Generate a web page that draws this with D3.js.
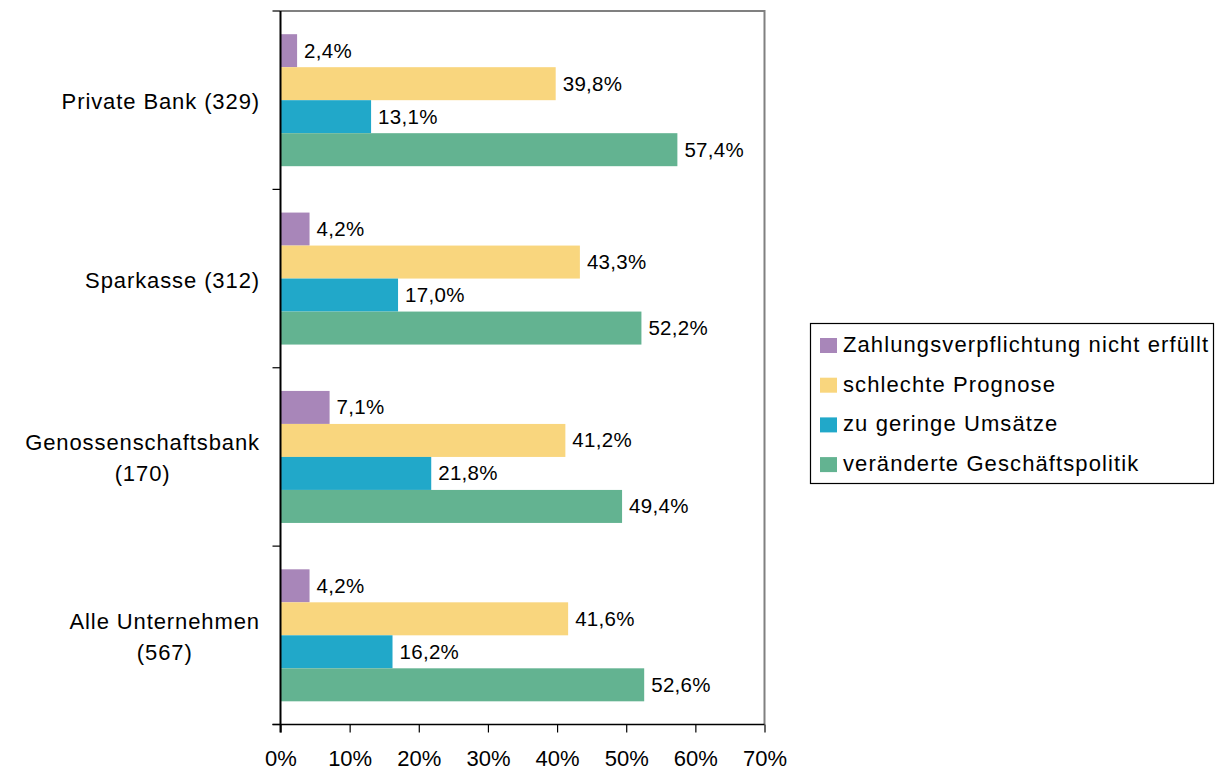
<!DOCTYPE html>
<html>
<head>
<meta charset="utf-8">
<script src="https://cdn.jsdelivr.net/npm/d3@7"></script>
<style>
  body { margin: 0; background: #fff; }
  text { font-family: "Liberation Sans", Arial, sans-serif; fill: #000; }
</style>
</head>
<body>
<div id="chart"></div>
<script>
// categories, top to bottom
var categories = [["Private Bank (329)"], ["Sparkasse (312)"], ["Genossenschaftsbank", "(170)"], ["Alle Unternehmen", "(567)"]];
var seriesNames = ["Zahlungsverpflichtung nicht erfüllt", "schlechte Prognose", "zu geringe Umsätze", "veränderte Geschäftspolitik"];
var seriesColors = ["#A886B9", "#F9D67E", "#21A8C9", "#63B391"];
// values per series, same order as categories
var zahlung = [2.4, 4.2, 7.1, 4.2];
var prognose = [39.8, 43.3, 41.2, 41.6];
var umsatz = [13.1, 17.0, 21.8, 16.2];
var politik = [57.4, 52.2, 49.4, 52.6];
var tickValues = [0, 10, 20, 30, 40, 50, 60, 70];

var values = [zahlung, prognose, umsatz, politik];

var W = 1222, H = 771;
var pLeft = 280.5, pRight = 764.5, pTop = 11, pBottom = 724.5;

var svg = d3.select("#chart").append("svg").attr("width", W).attr("height", H);

var x = d3.scaleLinear().domain([0, 70]).range([pLeft, pRight]);
var y = d3.scaleBand().domain(d3.range(categories.length)).range([pTop, pBottom]).paddingInner(0.26).paddingOuter(0.13);
var ySub = d3.scaleBand().domain(d3.range(seriesNames.length)).range([0, y.bandwidth()]);

// frame: top and right in grey
svg.append("path")
  .attr("d", "M" + pLeft + "," + pTop + "H" + pRight + "V" + pBottom)
  .attr("fill", "none").attr("stroke", "#808080").attr("stroke-width", 2);

// bars
values.forEach(function (vals, s) {
  svg.selectAll(".bar" + s).data(vals).enter().append("rect")
    .attr("x", x(0))
    .attr("y", function (d, i) { return y(i) + ySub(s); })
    .attr("width", function (d) { return x(d) - x(0); })
    .attr("height", ySub.bandwidth())
    .attr("fill", seriesColors[s]);
  svg.selectAll(".lab" + s).data(vals).enter().append("text")
    .attr("x", function (d) { return x(d) + 7; })
    .attr("y", function (d, i) { return y(i) + ySub(s) + ySub.bandwidth() / 2 + 7; })
    .style("font-size", "20.5px")
    .style("letter-spacing", "0.3px")
    .text(function (d) { return d.toFixed(1).replace(".", ",") + "%"; });
});

// x axis
var xAxis = d3.axisBottom(x).tickValues(tickValues).tickSize(8).tickFormat(function (d) { return d + "%"; });
var gx = svg.append("g").attr("transform", "translate(0," + pBottom + ")").call(xAxis);
gx.select(".domain").attr("stroke", "#000").attr("stroke-width", 1.5).attr("d", "M" + (pLeft - 8) + ",0H" + pRight);
gx.selectAll(".tick line").attr("stroke", "#000").attr("stroke-width", 1.2);
gx.selectAll(".tick text").attr("y", 41).attr("dy", null).style("font-size", "22px")
  .style("font-family", "Liberation Sans, Arial, sans-serif").attr("fill", "#000");

// y axis line and category boundary ticks
svg.append("line").attr("x1", pLeft).attr("x2", pLeft).attr("y1", pTop).attr("y2", pBottom + 8)
  .attr("stroke", "#000").attr("stroke-width", 2);
var step = (pBottom - pTop) / categories.length;
d3.range(categories.length + 1).forEach(function (i) {
  svg.append("line").attr("x1", pLeft - 8).attr("x2", pLeft)
    .attr("y1", pTop + i * step).attr("y2", pTop + i * step)
    .attr("stroke", "#000").attr("stroke-width", 1.2);
});

// category labels
categories.forEach(function (lines, i) {
  var cy = y(i) + y.bandwidth() / 2;
  var t = svg.append("text").style("font-size", "22px").style("letter-spacing", "0.9px").attr("text-anchor", "middle");
  lines.forEach(function (ln, j) {
    t.append("tspan").attr("x", 0).attr("y", cy + 9 + (j - (lines.length - 1) / 2) * 31).text(ln);
  });
  var w = t.node().getBBox().width;
  t.attr("transform", "translate(" + (260 - w / 2) + ",0)");
});

// legend
var lg = svg.append("g");
lg.append("rect").attr("x", 810.5).attr("y", 323.5).attr("width", 403).attr("height", 160)
  .attr("fill", "#fff").attr("stroke", "#000").attr("stroke-width", 1.2);
seriesNames.forEach(function (n, i) {
  var cy = 345 + i * 39.7;
  lg.append("rect").attr("x", 820).attr("y", cy - 7).attr("width", 17).attr("height", 15).attr("fill", seriesColors[i]);
  lg.append("text").attr("x", 843).attr("y", cy + 7).style("font-size", "22px").style("letter-spacing", "1.1px").text(n);
});
</script>
</body>
</html>
